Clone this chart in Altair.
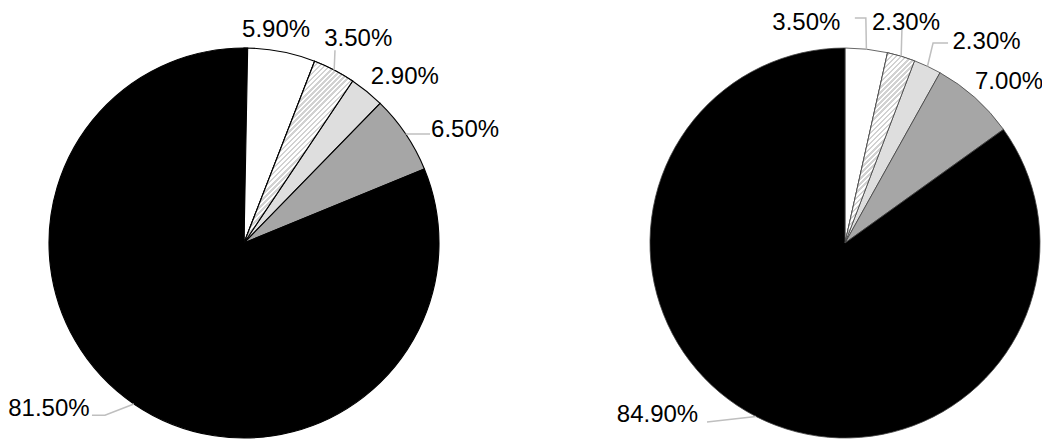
import math
import altair as alt
import pandas as pd

# ---- data ----
categories = ["A", "B", "C", "D", "E"]
left_values = [5.9, 3.5, 2.9, 6.5, 81.5]
right_values = [3.5, 2.3, 2.3, 7.0, 84.9]
left_labels = ["5.90%", "3.50%", "2.90%", "6.50%", "81.50%"]
right_labels = ["3.50%", "2.30%", "2.30%", "7.00%", "84.90%"]

# ---- styles / layout ----
fill_colors = ["#ffffff", "#ffffff", "#dedede", "#a6a6a6", "#000000"]
HATCH_CAT = "B"
STRIPE = "#d2d2d2"
LEADER = "#bfbfbf"
FONT = "Liberation Sans"
FONT_SIZE = 24
R = 195
W, H = 1034, 431

# label placement: (polar radius, polar angle deg) of label centre, and leader
# bend points relative to the label centre
left_layout = [
    (217, 8.5, []),
    (235, 29.1, [(-23.3, 12.5)]),
    (232, 43.9, []),
    (249, 62.6, [(-35, 5.7)]),
    (255, 229.9, [(56, 8), (43, 8)]),
]
right_layout = [
    (224.8, 350.1, [(59.5, -3.5), (48.5, -3.5)]),
    (229.7, 15.4, [(-4, 5.5)]),
    (247.4, 34.9, [(-53.5, 3), (-38.5, 3)]),
    (231.2, 45.2, []),
    (253.1, 227.8, [(49.5, 9)]),
]


def stripe_gradient(a0_deg, a1_deg, period=3.6):
    # bounding box of the slice path (first quadrant slice from the centre)
    w = R * math.sin(math.radians(a1_deg))
    h = R * math.cos(math.radians(a0_deg))
    k = (w + h) / (w * w + h * h)
    n = max(1, int(round((w + h) / (math.sqrt(2) * period))))
    stops = []
    for i in range(n):
        o0 = i / n
        o1 = (i + 0.5) / n
        o2 = (i + 1) / n
        stops += [
            {"offset": o0, "color": "#ffffff"},
            {"offset": o1, "color": "#ffffff"},
            {"offset": o1, "color": STRIPE},
            {"offset": o2, "color": STRIPE},
        ]
    return {
        "gradient": "linear",
        "x1": 0, "y1": 0, "x2": k * w, "y2": k * h,
        "stops": stops,
    }


def pie(values, labels, cx, cy, layout, stroke, stroke_width, tag):
    df = pd.DataFrame({"cat": categories, "value": values, "label": labels})
    df["end"] = df["value"].cumsum()
    df["start"] = df["end"] - df["value"]
    df["mid"] = (df["start"] + df["end"]) / 2

    theta = alt.Theta("start:Q", scale=alt.Scale(domain=[0, 100]))
    arcs = alt.Chart(df).mark_arc(stroke=stroke, strokeWidth=stroke_width).encode(
        theta=theta,
        theta2="end:Q",
        fill=alt.Fill("cat:N", scale=alt.Scale(domain=categories, range=fill_colors), legend=None),
        x=alt.value(cx), y=alt.value(cy), radius=alt.value(R),
    )

    hrow = df[df["cat"] == HATCH_CAT].iloc[0]
    grad = stripe_gradient(hrow["start"] * 3.6, hrow["end"] * 3.6)
    hatch = alt.Chart(df).transform_filter(
        alt.datum.cat == HATCH_CAT
    ).mark_arc(fill=grad, stroke=stroke, strokeWidth=stroke_width).encode(
        theta=theta, theta2="end:Q",
        x=alt.value(cx), y=alt.value(cy), radius=alt.value(R),
    )

    lab_rows, line_rows = [], []
    for i, (lr, la, bends) in enumerate(layout):
        lx = cx + lr * math.sin(math.radians(la))
        ly = cy - lr * math.cos(math.radians(la))
        # alphabetic baseline so that the digit ink is centred on ly
        lab_rows.append({"lx": lx, "ly": ly + 0.358 * FONT_SIZE, "label": df["label"][i]})
        if bends:
            m = math.radians(df["mid"][i] * 3.6)
            pts = [(cx + R * math.sin(m), cy - R * math.cos(m))]
            pts += [(lx + dx, ly + dy) for dx, dy in bends]
            for k, (px, py) in enumerate(pts):
                line_rows.append({"lid": f"{tag}{i}", "k": k, "px": px, "py": py})

    texts = alt.Chart(pd.DataFrame(lab_rows)).mark_text(
        font=FONT, fontSize=FONT_SIZE, align="center", baseline="alphabetic", color="#000000"
    ).encode(
        x=alt.X("lx:Q", scale=None, axis=None),
        y=alt.Y("ly:Q", scale=None, axis=None),
        text="label:N",
    )
    leaders = alt.Chart(pd.DataFrame(line_rows)).mark_line(
        color=LEADER, strokeWidth=1.5
    ).encode(
        x=alt.X("px:Q", scale=None, axis=None),
        y=alt.Y("py:Q", scale=None, axis=None),
        detail="lid:N",
        order="k:O",
    )
    return [arcs, hatch, leaders, texts]


layers = pie(left_values, left_labels, 236, 235, left_layout, "#000000", 1.1, "L") + \
    pie(right_values, right_labels, 837, 235, right_layout, "#404040", 0.8, "R")

chart = alt.layer(*layers).properties(
    width=W, height=H, padding=0,
    autosize=alt.AutoSizeParams(type="none"),
).configure_view(strokeOpacity=0)

chart.save("out.html", embed_options={"renderer": "svg", "actions": False})
